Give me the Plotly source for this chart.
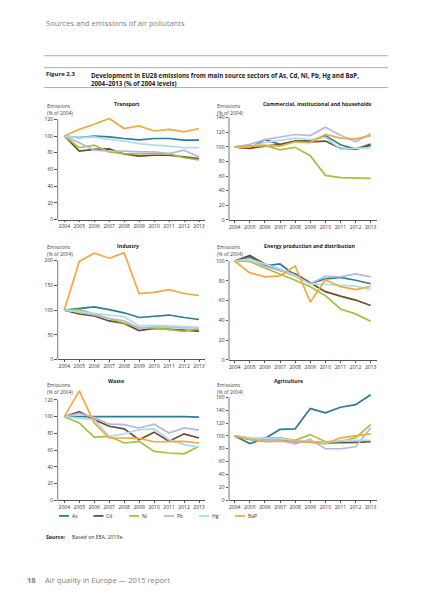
import plotly.graph_objects as go

W, H = 424, 600

years = [2004, 2005, 2006, 2007, 2008, 2009, 2010, 2011, 2012, 2013]
pollutants = ["As", "Cd", "Ni", "Pb", "Hg", "BaP"]
colors = {"As": "#2c7d9a", "Cd": "#6f4c2f", "Ni": "#a3c13c", "Pb": "#b9b6de",
          "Hg": "#abdde8", "BaP": "#f2a93d"}

# Transport
transport_As = [100, 98, 100, 99, 97, 95.5, 97, 97, 95, 95]
transport_Cd = [100, 82, 84, 84.5, 78.5, 76, 77, 77, 75, 73]
transport_Ni = [100, 86, 89, 81, 79, 78.5, 79, 79, 74, 71.5]
transport_Pb = [100, 92, 83, 82, 82, 81, 81, 79, 83, 75]
transport_Hg = [100, 98, 99, 96, 94, 91, 89, 88, 86, 86]
transport_BaP = [100, 108, 114, 121, 109, 112, 106, 108, 105, 109]

# Commercial, institutional and households
commercial_As = [100, 98, 110, 103.5, 108, 108.5, 115.5, 103, 97, 104]
commercial_Cd = [100, 98, 101, 103, 108, 107, 108, 98, 97, 102]
commercial_Ni = [100, 101, 102, 96, 99.5, 88, 61, 58, 57, 57]
commercial_Pb = [100, 103.5, 110, 114, 117, 115.5, 127, 116, 107, 118]
commercial_Hg = [100, 100, 106, 109.5, 112, 110, 113, 97, 98, 99]
commercial_BaP = [100, 101, 102, 101, 107, 106, 117, 112, 111, 115.5]

# Industry
industry_As = [100, 103, 106.5, 101, 94.5, 85, 88, 90, 85, 81]
industry_Cd = [100, 92, 88, 78, 73, 58.5, 63, 61, 58.5, 57.5]
industry_Ni = [100, 101, 92, 82.5, 74.5, 64.5, 64, 60, 57, 62.5]
industry_Pb = [100, 96.5, 90, 83, 78.5, 63, 66.5, 65, 64, 64.5]
industry_Hg = [100, 96.5, 93, 90, 86.5, 68, 69, 68, 66.5, 65]
industry_BaP = [100, 198.5, 215, 205, 216, 133.5, 136, 141.5, 133.5, 129.5]

# Energy production and distribution
energy_As = [100, 104, 95, 97, 85.5, 77, 82, 83.5, 80.5, 77]
energy_Cd = [100, 105.5, 97, 90.5, 87, 78, 69, 64.5, 60.5, 55]
energy_Ni = [100, 99.5, 93, 87, 80.5, 74, 65, 51.5, 46.5, 39]
energy_Pb = [100, 102.5, 94.5, 90.5, 84.5, 77, 84.5, 84, 87, 84]
energy_Hg = [100, 101.5, 97, 92, 85.5, 76.5, 76.5, 75.5, 74.5, 71]
energy_BaP = [100, 88, 84, 85, 95, 58.5, 81, 74, 71, 74.5]

# Waste
waste_As = [100, 100, 100.5, 100, 100, 100, 100, 100.5, 100, 99.5]
waste_Cd = [100, 106, 96.5, 88.5, 85.5, 72.5, 81.5, 70.5, 79.5, 74.5]
waste_Ni = [100, 92.5, 75.5, 76.5, 68.5, 70.5, 58.5, 56.5, 55.5, 64.5]
waste_Pb = [100, 104, 99, 91, 90.5, 86.5, 91, 80.5, 86.5, 84]
waste_Hg = [100, 98.5, 96.5, 76.5, 79.5, 84.5, 85.5, 72.5, 66.5, 63.5]
waste_BaP = [100, 131, 92.5, 74.5, 74.5, 74, 70, 70, 70.5, 68.5]

# Agriculture
agri_As = [100, 88, 96, 110, 111, 142.5, 136, 144.5, 148.5, 164]
agri_Cd = [100, 94.5, 93, 93, 91, 91, 89, 89, 90, 91]
agri_Ni = [100, 94.5, 97, 97, 93, 102, 91, 91, 97, 117.5]
agri_Pb = [100, 96, 93, 93, 87.5, 94.5, 80, 80, 83, 112.5]
agri_Hg = [100, 97, 96, 96, 92, 91, 89, 93, 93, 93]
agri_BaP = [100, 94.5, 91, 92, 92, 90, 87.5, 97, 99.5, 103]

sectors = [
    ("Transport", [transport_As, transport_Cd, transport_Ni, transport_Pb, transport_Hg, transport_BaP]),
    ("Commercial, institutional and households", [commercial_As, commercial_Cd, commercial_Ni, commercial_Pb, commercial_Hg, commercial_BaP]),
    ("Industry", [industry_As, industry_Cd, industry_Ni, industry_Pb, industry_Hg, industry_BaP]),
    ("Energy production and distribution", [energy_As, energy_Cd, energy_Ni, energy_Pb, energy_Hg, energy_BaP]),
    ("Waste", [waste_As, waste_Cd, waste_Ni, waste_Pb, waste_Hg, waste_BaP]),
    ("Agriculture", [agri_As, agri_Cd, agri_Ni, agri_Pb, agri_Hg, agri_BaP]),
]
y_tick_max = [120, 140, 200, 100, 120, 160]
y_tick_step = [20, 20, 50, 20, 20, 20]

# layout geometry (pixels)
y_px = [(220.7, 119.9), (221.0, 118.3), (361.3, 262.0), (361.7, 262.3), (502.7, 402.0), (502.7, 399.3)]
x_px = [(57.7, 205.0, 64.3, 199.0), (229.0, 376.7, 234.7, 370.7)]
title_px = [(127, 105), (317, 105), (128, 247), (310, 247), (116, 383), (288, 383)]
label_px = [(45, 105), (215, 105), (45, 247), (215, 247), (45, 385), (215, 385)]

fig = go.Figure()
shapes = []
annotations = []
font_family = "Open Sans"

for i, (name, series) in enumerate(sectors):
    n = i + 1
    col = i % 2
    xa = "x" if n == 1 else f"x{n}"
    ya = "y" if n == 1 else f"y{n}"
    for p, vals in zip(pollutants, series):
        fig.add_trace(go.Scatter(x=years, y=vals, mode="lines", name=p,
                                 line=dict(color=colors[p], width=1.7),
                                 xaxis=xa, yaxis=ya, showlegend=False,
                                 hoverinfo="skip"))
    pz, pt = y_px[i]
    T = y_tick_max[i]
    ppu = (pz - pt) / T
    R = T * 1.2
    ytop = pz - R * ppu
    ydom = [(H - pz) / H, (H - ytop) / H]
    xl, xr, x04, x13 = x_px[col]
    ppy = (x13 - x04) / 9
    xrange = [2004 - (x04 - xl) / ppy, 2013 + (xr - x13) / ppy]
    xkey = "xaxis" if n == 1 else f"xaxis{n}"
    ykey = "yaxis" if n == 1 else f"yaxis{n}"
    fig.update_layout(**{
        xkey: dict(domain=[xl / W, xr / W], range=xrange, anchor=ya,
                   tickvals=years, ticktext=[str(y) for y in years],
                   showline=True, linecolor="#555", linewidth=0.8,
                   ticks="outside", ticklen=2, tickcolor="#555", tickwidth=0.8,
                   showgrid=False, zeroline=False,
                   tickfont=dict(size=5, color="#333", family=font_family),
                   tickangle=0, fixedrange=True),
        ykey: dict(domain=ydom, range=[0, R], anchor=xa,
                   tickvals=list(range(0, T + 1, y_tick_step[i])),
                   showline=False, ticks="outside", ticklen=2.5,
                   tickcolor="#555", tickwidth=0.8,
                   showgrid=False, zeroline=False,
                   tickfont=dict(size=5, color="#333", family=font_family),
                   fixedrange=True),
    })
    shapes.append(dict(type="line", xref=f"{xa} domain", yref=ya, x0=0, x1=0,
                       y0=0, y1=T, line=dict(color="#555", width=0.8)))
    tx, ty = title_px[i]
    annotations.append(dict(text=f"<b>{name}</b>", x=tx / W, y=1 - ty / H,
                            xref="paper", yref="paper", xanchor="center", yanchor="middle",
                            showarrow=False, font=dict(size=5.2, color="#222", family=font_family)))
    lx, ly = label_px[i]
    annotations.append(dict(text="Emissions<br>(% of 2004)", x=lx / W, y=1 - (ly - 3.5) / H,
                            xref="paper", yref="paper", xanchor="left", yanchor="top",
                            align="left", showarrow=False,
                            font=dict(size=5, color="#444", family=font_family)))

# header / footer texts
annotations.append(dict(text="Sources and emissions of air pollutants", x=44 / W, y=1 - 23 / H,
                        xref="paper", yref="paper", xanchor="left", yanchor="middle",
                        showarrow=False, font=dict(size=7.6, color="#808080", family=font_family)))
annotations.append(dict(text="<b>Figure 2.3</b>", x=44 / W, y=1 - 74.5 / H,
                        xref="paper", yref="paper", xanchor="left", yanchor="middle",
                        showarrow=False, font=dict(size=6, color="#222", family=font_family)))
annotations.append(dict(text="<b>Development in EU28 emissions from main source sectors of As, Cd, Ni, Pb, Hg and BaP,<br>2004–2013 (% of 2004 levels)</b>",
                        x=88.5 / W, y=1 - 69.5 / H, xref="paper", yref="paper",
                        xanchor="left", yanchor="top", align="left",
                        showarrow=False, font=dict(size=6.2, color="#222", family=font_family)))
annotations.append(dict(text="<b>Source:</b>", x=44 / W, y=1 - 539.5 / H,
                        xref="paper", yref="paper", xanchor="left", yanchor="middle",
                        showarrow=False, font=dict(size=5.2, color="#222", family=font_family)))
annotations.append(dict(text="Based on EEA, 2015e.", x=70 / W, y=1 - 539.5 / H,
                        xref="paper", yref="paper", xanchor="left", yanchor="middle",
                        showarrow=False, font=dict(size=5.2, color="#333", family=font_family)))
annotations.append(dict(text="<b>18</b>", x=25 / W, y=1 - 583 / H,
                        xref="paper", yref="paper", xanchor="left", yanchor="middle",
                        showarrow=False, font=dict(size=7.6, color="#808080", family=font_family)))
annotations.append(dict(text="Air quality in Europe — 2015 report", x=43 / W, y=1 - 583 / H,
                        xref="paper", yref="paper", xanchor="left", yanchor="middle",
                        showarrow=False, font=dict(size=7.6, color="#808080", family=font_family)))

# horizontal rules
for yy in [56, 68, 88]:
    shapes.append(dict(type="line", xref="paper", yref="paper", x0=44 / W, x1=388 / W,
                       y0=1 - yy / H, y1=1 - yy / H, line=dict(color="#999", width=0.8)))

# legend (drawn manually)
leg_x = [59, 93.5, 129, 164, 199, 235]
leg_y = 518.5
for p, lx in zip(pollutants, leg_x):
    shapes.append(dict(type="line", xref="paper", yref="paper", x0=lx / W, x1=(lx + 10) / W,
                       y0=1 - leg_y / H, y1=1 - leg_y / H,
                       line=dict(color=colors[p], width=1.8)))
    annotations.append(dict(text=p, x=(lx + 10.5) / W, y=1 - leg_y / H,
                            xref="paper", yref="paper", xanchor="left", yanchor="middle",
                            showarrow=False, font=dict(size=5, color="#333", family=font_family)))

fig.update_layout(width=W, height=H, margin=dict(l=0, r=0, t=0, b=0),
                  paper_bgcolor="white", plot_bgcolor="white",
                  shapes=shapes, annotations=annotations, showlegend=False,
                  font=dict(family=font_family))

fig.write_html("out.html", config={"displayModeBar": False})
